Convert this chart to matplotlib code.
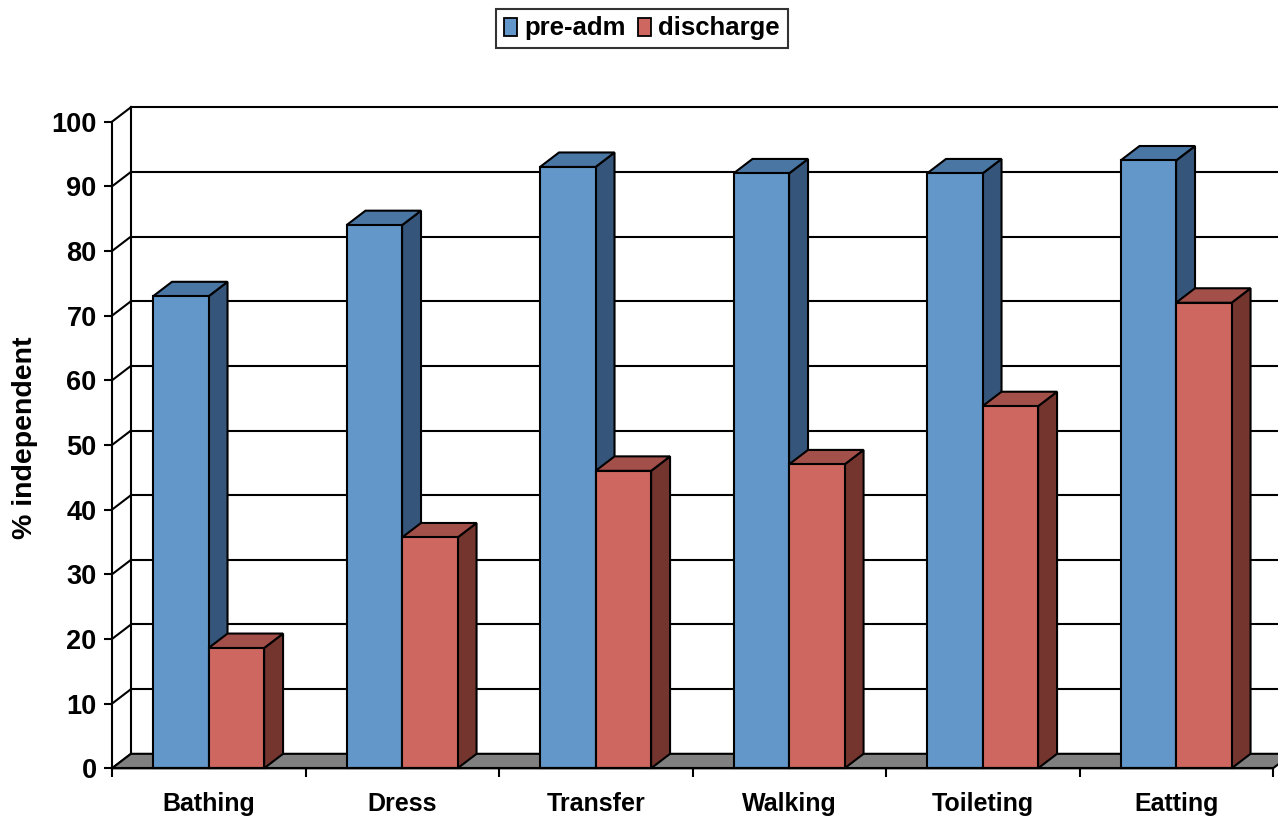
import matplotlib
matplotlib.use("Agg")
import matplotlib.pyplot as plt
from matplotlib.patches import Polygon, Patch

plt.rcParams['font.family'] = ['Liberation Sans', 'DejaVu Sans']
plt.rcParams['font.weight'] = 'bold'

# ADL items and % of patients independent
categories = ['Bathing', 'Dress', 'Transfer', 'Walking', 'Toileting', 'Eatting']
pre_adm = [73, 84, 93, 92, 92, 94]
discharge = [18.6, 35.7, 46, 47, 56, 72]
series_names = ['pre-adm', 'discharge']
yticks = list(range(0, 101, 10))

# face colours: front, top, side
blue = ('#6397C9', '#4A76A3', '#36557A')
red = ('#CD6760', '#A4504A', '#74352F')

# fake 3d depth in data units
dx, dy = 0.098, 2.24
bar_w = 0.287
bar_start = 0.212
lw = 1.5

fig = plt.figure(figsize=(12.78, 8.17), dpi=100)
ax = fig.add_axes([0, 0, 1, 1])
px_x = 193.5   # pixels per category
px_y = 6.466   # pixels per percent
ax.set_xlim(-112 / px_x, (1278 - 112) / px_x)
ax.set_ylim(-(817 - 768.3) / px_y, 768.3 / px_y)

n = len(categories)

# back wall: gridlines + the short diagonals on the side wall
for v in yticks:
    ax.plot([dx, n + dx + 1], [v + dy, v + dy], color='black', lw=lw, zorder=1)
    ax.plot([0, dx], [v, v + dy], color='black', lw=lw, zorder=1)
ax.plot([dx, dx], [dy, 100 + dy], color='black', lw=lw, zorder=1)

# floor
floor = Polygon([(0, 0), (n, 0), (n + dx, dy), (dx, dy)], closed=True,
                facecolor='#808080', edgecolor='black', lw=lw, zorder=2)
ax.add_patch(floor)


def bar3d(x0, v, cols, z):
    front, top, side = cols
    side_p = Polygon([(x0 + bar_w, 0), (x0 + bar_w + dx, dy),
                      (x0 + bar_w + dx, v + dy), (x0 + bar_w, v)],
                     closed=True, facecolor=side, edgecolor='black', lw=lw,
                     joinstyle='miter', zorder=z)
    top_p = Polygon([(x0, v), (x0 + bar_w, v), (x0 + bar_w + dx, v + dy),
                     (x0 + dx, v + dy)],
                    closed=True, facecolor=top, edgecolor='black', lw=lw,
                    joinstyle='miter', zorder=z)
    front_p = Polygon([(x0, 0), (x0 + bar_w, 0), (x0 + bar_w, v), (x0, v)],
                      closed=True, facecolor=front, edgecolor='black', lw=lw,
                      joinstyle='miter', zorder=z)
    for p in (side_p, top_p, front_p):
        ax.add_patch(p)


for i in range(n):
    bar3d(i + bar_start, pre_adm[i], blue, 3 + 2 * i)
    bar3d(i + bar_start + bar_w, discharge[i], red, 4 + 2 * i)

# front axes
for s in ['top', 'right']:
    ax.spines[s].set_visible(False)
ax.spines['left'].set_position(('data', 0))
ax.spines['left'].set_bounds(0, 100)
ax.spines['bottom'].set_position(('data', 0))
ax.spines['bottom'].set_bounds(0, n)
for s in ['left', 'bottom']:
    ax.spines[s].set_linewidth(lw)
    ax.spines[s].set_zorder(20)

ax.set_yticks(yticks)
ax.set_yticklabels([str(t) for t in yticks])
ax.tick_params(axis='y', direction='out', length=6, width=lw, pad=5,
               labelsize=19.5)

ax.set_xticks(range(n + 1))
ax.set_xticklabels([])
ax.set_xticks([i + 0.5 for i in range(n)], minor=True)
ax.set_xticklabels(categories, minor=True)
ax.tick_params(axis='x', which='major', direction='out', length=6.5, width=lw)
ax.tick_params(axis='x', which='minor', length=0, pad=17, labelsize=18)

fig.text(25 / 1278, 1 - 438 / 817, '% independent', rotation=90,
         ha='center', va='center', fontsize=20.5, fontweight='bold')

handles = [Patch(facecolor=blue[0], edgecolor='black', lw=1.3),
           Patch(facecolor=red[0], edgecolor='black', lw=1.3)]
leg = fig.legend(handles, series_names, loc='center',
                 bbox_to_anchor=(642 / 1278, 1 - 28.5 / 817), ncol=2,
                 fancybox=False, frameon=True, prop={'size': 18.5, 'weight': 'bold'},
                 handlelength=0.5, handleheight=0.7, handletextpad=0.3,
                 columnspacing=0.45, borderpad=0.3, borderaxespad=0)
leg.get_frame().set_edgecolor('black')
leg.get_frame().set_linewidth(1.5)

fig.savefig('out.png', dpi=100)
